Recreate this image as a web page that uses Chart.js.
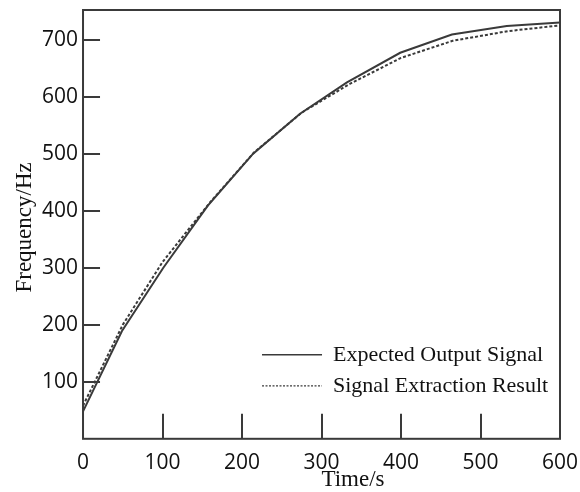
<!DOCTYPE html>
<html>
<head>
<meta charset="utf-8">
<script src="https://cdn.jsdelivr.net/npm/chart.js@4/dist/chart.umd.min.js"></script>
<style>
  html, body { margin: 0; padding: 0; background: #fff; }
  #wrap { width: 580px; height: 492px; }
</style>
</head>
<body>
<div id="wrap"><canvas id="chart" width="580" height="492"></canvas></div>
<script>
// values
const expectedTime = [0, 49, 101, 157, 214, 273, 332, 399, 464, 533, 600];
const expectedFreq = [48, 189, 300, 409, 500, 570, 625, 677, 709, 724, 730];
const extractedTime = [0, 50, 100, 160, 215, 275, 335, 400, 465, 535, 600];
const extractedFreq = [58, 200, 310, 415, 502, 572, 622, 668, 698, 715, 725];
const seriesLabels = ['Expected Output Signal', 'Signal Extraction Result'];
const xTitle = 'Time/s';
const yTitle = 'Frequency/Hz';

const INK = '#3a3a3a';
const SERIF = '"Liberation Serif", "Times New Roman", serif';
const SANS = '"Open Sans", "Noto Sans", sans-serif';

const toPoints = (xs, ys) => xs.map((x, i) => ({ x, y: ys[i] }));

// let layout.padding alone decide the margins (labels may overhang)
const noOverhang = scale => {
  scale.paddingTop = 0;
  scale.paddingBottom = 0;
  scale.paddingLeft = 0;
  scale.paddingRight = 0;
};

// frame, inward ticks, axis titles and legend inside the plot
const decorations = {
  id: 'decorations',
  afterDraw(chart) {
    const { ctx, chartArea: a, scales } = chart;
    ctx.save();
    ctx.strokeStyle = INK;
    ctx.lineWidth = 2;
    ctx.strokeRect(a.left, a.top, a.right - a.left, a.bottom - a.top);

    ctx.beginPath();
    scales.x.ticks.forEach(t => {
      if (t.value <= 0 || t.value >= 600) return;
      const px = Math.round(scales.x.getPixelForValue(t.value));
      ctx.moveTo(px, a.bottom);
      ctx.lineTo(px, a.bottom - 25);
    });
    scales.y.ticks.forEach(t => {
      if (t.value <= 0 || t.value % 100 !== 0) return;
      const py = Math.round(scales.y.getPixelForValue(t.value));
      ctx.moveTo(a.left, py);
      ctx.lineTo(a.left + 17, py);
    });
    ctx.stroke();

    ctx.fillStyle = '#111';
    ctx.font = '23px ' + SERIF;
    ctx.textAlign = 'center';
    ctx.textBaseline = 'middle';
    ctx.fillText(xTitle, a.left + 270, 480);
    ctx.save();
    ctx.translate(25, (a.top + a.bottom) / 2 + 3);
    ctx.rotate(-Math.PI / 2);
    ctx.fillText(yTitle, 0, 0);
    ctx.restore();

    // legend
    ctx.font = '22px ' + SERIF;
    ctx.textAlign = 'left';
    chart.data.datasets.forEach((ds, i) => {
      const y = a.bottom - 84 + i * 31;
      ctx.beginPath();
      ctx.lineWidth = ds.borderDash.length ? 1.2 : 1.6;
      ctx.setLineDash(ds.borderDash.length ? [2, 1.5] : []);
      ctx.moveTo(a.left + 179, y);
      ctx.lineTo(a.left + 239, y);
      ctx.stroke();
      ctx.setLineDash([]);
      ctx.fillText(ds.label, a.left + 250, y);
    });
    ctx.restore();
  }
};

new Chart(document.getElementById('chart'), {
  type: 'line',
  data: {
    datasets: [
      {
        label: seriesLabels[0],
        data: toPoints(expectedTime, expectedFreq),
        borderColor: INK,
        borderWidth: 2,
        borderDash: [],
        pointRadius: 0,
        tension: 0
      },
      {
        label: seriesLabels[1],
        data: toPoints(extractedTime, extractedFreq),
        borderColor: INK,
        borderWidth: 2,
        borderDash: [3, 2],
        pointRadius: 0,
        tension: 0
      }
    ]
  },
  options: {
    responsive: false,
    animation: false,
    layout: { padding: { left: 37, right: 20, top: 10, bottom: 4 } },
    plugins: {
      legend: { display: false },
      tooltip: { enabled: false }
    },
    scales: {
      x: {
        type: 'linear',
        min: 0,
        max: 600,
        afterFit: noOverhang,
        ticks: {
          stepSize: 100,
          padding: 12,
          color: '#111',
          font: { family: SANS, size: 21 }
        },
        grid: { display: false, drawTicks: false },
        border: { display: false }
      },
      y: {
        min: 0,
        max: 752,
        afterFit: noOverhang,
        ticks: {
          stepSize: 100,
          padding: 5,
          color: '#111',
          font: { family: SANS, size: 21 },
          callback: v => (v > 0 && v % 100 === 0 ? v : '')
        },
        grid: { display: false, drawTicks: false },
        border: { display: false }
      }
    }
  },
  plugins: [decorations]
});
</script>
</body>
</html>
